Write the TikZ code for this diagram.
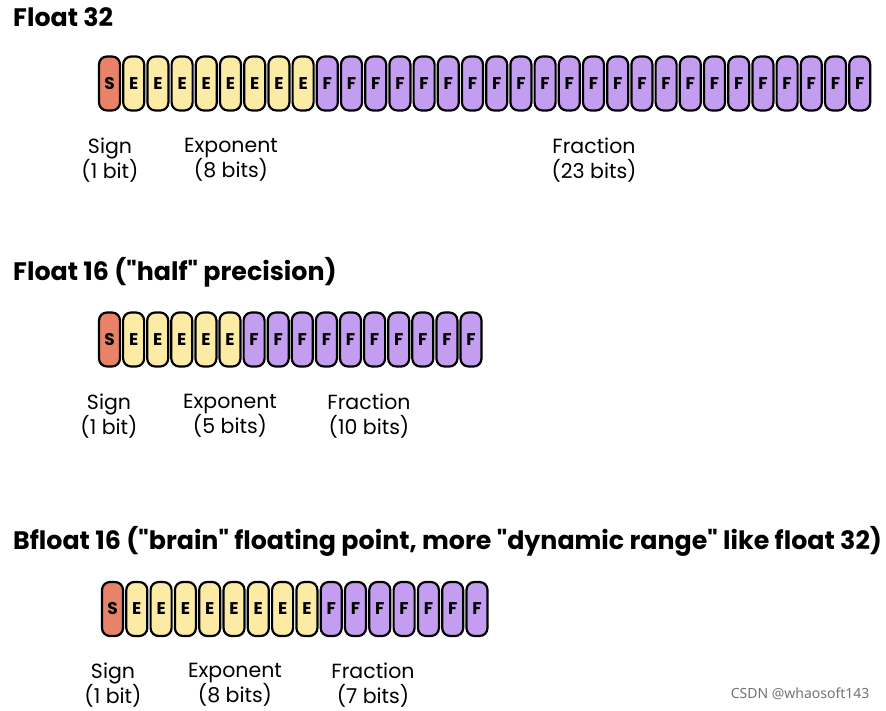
\documentclass[tikz,border=0pt]{standalone}
\usepackage{fontspec}
\setmainfont{Poppins}
\newfontfamily\wmfont{Noto Sans}
\usepackage{tikz}
\usetikzlibrary{positioning}

\definecolor{signred}{HTML}{E8836A}
\definecolor{expyellow}{HTML}{FCEBA5}
\definecolor{fracpurple}{HTML}{C39DEF}

\begin{document}
\begin{tikzpicture}[
  x=1pt, y=-1pt,
  bit/.style={draw=black, line width=2.2pt, rounded corners=8pt, minimum width=21pt, minimum height=54pt, inner sep=0pt, font=\fontsize{17}{17}\selectfont\bfseries},
  sbit/.style={bit, fill=signred},
  ebit/.style={bit, fill=expyellow},
  fbit/.style={bit, fill=fracpurple},
  title/.style={anchor=west, inner sep=0pt, font=\fontsize{25.3}{25}\selectfont\bfseries},
  label/.style={align=center, font=\fontsize{20.5}{25}\selectfont},
]
\useasboundingbox (0,0) rectangle (886,711);

% Float 32
\node[title] (t32) at (13,17) {Float 32};
\node[sbit] (a0) at (109.5,83.5) {S};
\foreach \i in {1,...,8} \node[ebit] (a\i) at ({109.5+24.2*\i},83.5) {E};
\foreach \i in {9,...,31} \node[fbit] (a\i) at ({109.5+24.2*\i},83.5) {F};
\node[label] (a-sign) at (110,160) {Sign\\(1 bit)};
\node[label] (a-exp) at (231,160) {Exponent\\(8 bits)};
\node[label] (a-frac) at (594,160) {Fraction\\(23 bits)};

% Float 16
\node[title] (t16) at (13,272) {Float 16 (\textquotedbl half\textquotedbl\ precision)};
\node[sbit] (b0) at (109.5,339.5) {S};
\foreach \i in {1,...,5} \node[ebit] (b\i) at ({109.5+24.1*\i},339.5) {E};
\foreach \i in {6,...,15} \node[fbit] (b\i) at ({109.5+24.1*\i},339.5) {F};
\node[label] (b-sign) at (109,416) {Sign\\(1 bit)};
\node[label] (b-exp) at (230,416) {Exponent\\(5 bits)};
\node[label] (b-frac) at (369,416) {Fraction\\(10 bits)};

% Bfloat 16
\node[title] (tb16) at (13,541) {Bfloat 16 (\textquotedbl brain\textquotedbl\ floating point, more \textquotedbl dynamic range\textquotedbl\ like float 32)};
\node[sbit] (c0) at (112.5,609) {S};
\foreach \i in {1,...,8} \node[ebit] (c\i) at ({112.5+24.3*\i},609) {E};
\foreach \i in {9,...,15} \node[fbit] (c\i) at ({112.5+24.3*\i},609) {F};
\node[label] (c-sign) at (113,685) {Sign\\(1 bit)};
\node[label] (c-exp) at (235,685) {Exponent\\(8 bits)};
\node[label] (c-frac) at (373,685) {Fraction\\(7 bits)};

\node[anchor=east, text=black!55, font=\wmfont\fontsize{14}{14}\selectfont] (wm) at (873,694) {CSDN @whaosoft143};
\end{tikzpicture}
\end{document}
